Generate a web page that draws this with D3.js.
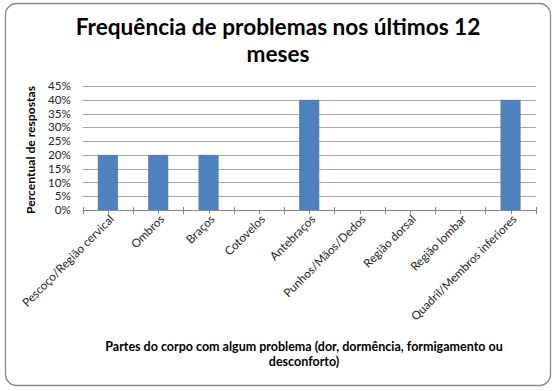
<!DOCTYPE html>
<html><head><meta charset="utf-8">
<script src="https://cdn.jsdelivr.net/npm/d3@7"></script>
<style>body{margin:0;background:#fff}svg{display:block}text{font-family:Lato,"Open Sans",sans-serif}</style>
</head><body>
<script>
const categories = ["Pescoço/Região cervical","Ombros","Braços","Cotovelos","Antebraços","Punhos/Mãos/Dedos","Região dorsal","Região lombar","Quadril/Membros inferiores"];
const values = [20,20,20,0,40,0,0,0,40];
const yTicks = [0,5,10,15,20,25,30,35,40,45];
const titleLines = ["Frequência de problemas nos últimos 12","meses"];
const yTitle = "Percentual de respostas";
const xTitleLines = ["Partes do corpo com algum problema (dor, dormência, formigamento ou","desconforto)"];

const W=557,H=391;
const svg=d3.select("body").append("svg").attr("width",W).attr("height",H);
svg.append("rect").attr("x",5.5).attr("y",3.5).attr("width",545).attr("height",382).attr("rx",11)
  .attr("fill","#fff").attr("stroke","#8a8a8a").attr("stroke-width",1.3);

function fit(sel,w){const n=sel.node();const l=n.getComputedTextLength();const fs=parseFloat(sel.attr("font-size"));sel.attr("font-size",fs*w/l);return fs*w/l;}

const x=d3.scaleBand().domain(categories).range([82.7,535.7]).paddingInner(0.6).paddingOuter(0.3);
const y=d3.scaleLinear().domain([0,45]).range([210,86]);

// gridlines
svg.append("g").selectAll("line").data(yTicks.filter(t=>t>0)).join("line")
  .attr("x1",82.7).attr("x2",535.7).attr("y1",d=>Math.round(y(d))+0.5).attr("y2",d=>Math.round(y(d))+0.5)
  .attr("stroke","#a6a6a6").attr("stroke-width",1);

// bars
svg.append("g").selectAll("rect").data(categories).join("rect")
  .attr("x",(d)=>x(d)).attr("width",x.bandwidth())
  .attr("y",(d,i)=>y(values[i])).attr("height",(d,i)=>y(0)-y(values[i]))
  .attr("fill","#4f81bd");

// x axis
const step=x.step();
const xa=svg.append("g");
xa.append("line").attr("x1",82.7).attr("x2",535.7).attr("y1",210.5).attr("y2",210.5).attr("stroke","#888").attr("stroke-width",1);
const bounds=d3.range(categories.length+1).map(i=>82.7+i*step);
xa.selectAll("line.b").data(bounds).join("line").attr("class","b")
  .attr("x1",d=>Math.round(d)+0.5).attr("x2",d=>Math.round(d)+0.5).attr("y1",207).attr("y2",214).attr("stroke","#888");
xa.selectAll("line.c").data(categories).join("line").attr("class","c")
  .attr("x1",d=>Math.round(x(d)+x.bandwidth()/2)+0.5).attr("x2",d=>Math.round(x(d)+x.bandwidth()/2)+0.5).attr("y1",210).attr("y2",214).attr("stroke","#888");
const xl=xa.selectAll("text").data(categories).join("text")
  .attr("transform",d=>`translate(${x(d)+x.bandwidth()/2+4},${217}) rotate(-45)`)
  .attr("text-anchor","end").attr("dy","0.35em").attr("font-size",10.5).attr("fill","#262626").text(d=>d);
const fsL=fit(d3.select(xl.nodes()[0]),124);
xl.attr("font-size",fsL);

// y tick labels
svg.append("g").selectAll("text").data(yTicks).join("text")
  .attr("x",71).attr("y",d=>y(d)).attr("dy","0.35em").attr("text-anchor","end")
  .attr("font-size",fsL).attr("fill","#262626").text(d=>d+"%");

// y title
const yt=svg.append("text").attr("transform","translate(35,150) rotate(-90)").attr("text-anchor","middle")
  .attr("font-weight","bold").attr("font-size",10).attr("fill","#000").text(yTitle);
fit(yt,128);

// title
let fsT=20;
titleLines.forEach((t,i)=>{
  const s=svg.append("text").attr("x",278).attr("y",35+i*27).attr("text-anchor","middle")
    .attr("font-weight","bold").attr("font-size",fsT).attr("fill","#000").text(t);
  if(i===0) fsT=fit(s,405);
});

// x title
let fsX=11;
xTitleLines.forEach((t,i)=>{
  const s=svg.append("text").attr("x",304).attr("y",351+i*15).attr("text-anchor","middle")
    .attr("font-weight","bold").attr("font-size",fsX).attr("fill","#000").text(t);
  if(i===0) fsX=fit(s,398);
});
</script>
</body></html>
